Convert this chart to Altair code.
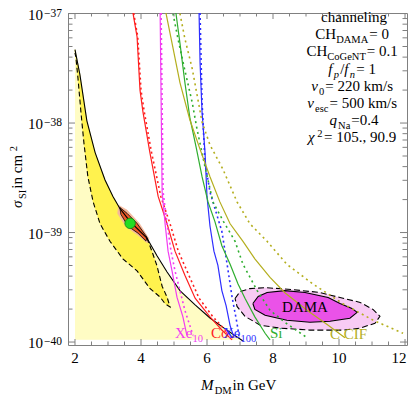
import altair as alt
import pandas as pd

FONT = "Liberation Serif"

# ---------------- data: DM mass (GeV) and log10(sigma_SI / cm^2) ----------------
black_m = [2.00, 2.15, 2.36, 2.61, 2.91, 3.15, 3.36, 3.67, 4.18, 4.48, 4.79, 5.18, 5.64, 6.09, 6.55, 7.09]
black_L = [-37.33, -37.56, -37.98, -38.27, -38.52, -38.67, -38.78, -38.90, -39.05, -39.21, -39.36, -39.53, -39.66, -39.78, -39.88, -39.99]
pale_floor = -39.98

dash_m = [4.18, 4.33, 4.48, 4.64, 4.79, 4.88, 4.73, 4.58, 4.27, 3.88, 3.45, 3.06, 2.76, 2.55, 2.39, 2.27, 2.18, 2.09, 2.03, 2.00]
dash_L = [-39.05, -39.17, -39.30, -39.49, -39.59, -39.68, -39.65, -39.59, -39.51, -39.35, -39.24, -39.08, -38.92, -38.72, -38.49, -38.18, -37.90, -37.59, -37.41, -37.36]

salmon_m = [3.32, 3.58, 3.95, 4.24, 4.19, 3.91, 3.54, 3.29]
salmon_L = [-38.750, -38.795, -38.916, -39.055, -39.095, -39.025, -38.945, -38.825]
orange_m = [3.36, 3.58, 3.88, 4.18, 4.15, 3.91, 3.61, 3.39]
orange_L = [-38.771, -38.825, -38.916, -39.042, -39.078, -39.006, -38.943, -38.834]
best_m = [3.67]
best_L = [-38.916]

dama_out_m = [6.85, 7.00, 7.30, 7.76, 8.61, 9.42, 10.03, 10.64, 11.03, 11.24, 11.09, 10.64, 10.12, 9.12, 8.21, 7.61, 7.15, 6.91]
dama_out_L = [-39.602, -39.539, -39.512, -39.503, -39.521, -39.548, -39.593, -39.638, -39.702, -39.765, -39.828, -39.873, -39.891, -39.891, -39.873, -39.846, -39.765, -39.675]
dama_in_m = [7.39, 7.55, 7.82, 8.36, 8.97, 9.67, 10.03, 10.39, 10.55, 10.33, 9.73, 9.12, 8.42, 7.76, 7.45]
dama_in_L = [-39.648, -39.584, -39.548, -39.530, -39.548, -39.593, -39.648, -39.693, -39.729, -39.783, -39.810, -39.819, -39.801, -39.756, -39.702]

red_m = [3.74, 3.76, 3.88, 3.97, 4.06, 4.27, 4.52, 4.79, 5.03, 5.33, 5.64, 6.09, 6.45, 6.76]
red_L = [-36.95, -37.00, -37.21, -37.70, -37.90, -38.27, -38.67, -38.92, -39.17, -39.39, -39.60, -39.77, -39.89, -39.98]
redd_m = [3.76, 3.78, 3.90, 4.00, 4.10, 4.32, 4.60, 4.88, 5.13, 5.45, 5.76, 6.18, 6.55, 6.85]
redd_L = [-36.95, -37.00, -37.21, -37.70, -37.90, -38.27, -38.67, -38.92, -39.17, -39.39, -39.60, -39.77, -39.89, -39.98]

mag_m = [4.58, 4.58, 4.61, 4.64, 4.73, 4.82, 4.94, 5.09, 5.27, 5.39]
mag_L = [-36.95, -37.00, -37.81, -38.63, -38.92, -39.17, -39.35, -39.59, -39.77, -39.94]
magd_m = [4.61, 4.61, 4.64, 4.67, 4.79, 4.91, 5.03, 5.18, 5.33, 5.48, 5.58]
magd_L = [-36.95, -37.00, -37.81, -38.63, -38.92, -39.17, -39.35, -39.53, -39.71, -39.85, -39.94]

blue_m = [5.75, 5.76, 5.79, 5.85, 5.94, 6.00, 6.09, 6.21, 6.33, 6.45, 6.58, 6.70, 6.82]
blue_L = [-36.95, -37.00, -37.45, -37.90, -38.27, -38.67, -38.94, -39.17, -39.30, -39.53, -39.67, -39.85, -39.96]
blued_m = [5.78, 5.79, 5.85, 5.94, 6.09, 6.27, 6.45, 6.61, 6.76, 6.91, 6.97]
blued_L = [-36.95, -37.00, -37.81, -38.36, -38.63, -38.81, -38.99, -39.29, -39.59, -39.83, -39.95]

green_m = [5.04, 5.06, 5.18, 5.33, 5.48, 5.67, 5.85, 6.03, 6.24, 6.45, 6.70, 6.94, 7.15, 7.45, 7.76, 7.91]
green_L = [-36.95, -37.00, -37.27, -37.63, -37.95, -38.22, -38.49, -38.72, -38.90, -39.12, -39.29, -39.47, -39.60, -39.77, -39.92, -39.98]
greend_m = [4.95, 4.97, 5.12, 5.33, 5.55, 5.70, 5.94, 6.18, 6.50, 6.85, 7.09, 7.52, 7.91, 8.36, 9.03]
greend_L = [-36.95, -37.00, -37.23, -37.52, -37.81, -38.06, -38.40, -38.72, -38.90, -39.08, -39.29, -39.53, -39.71, -39.82, -39.96]

olive_m = [4.73, 4.76, 4.94, 5.18, 5.48, 5.79, 6.09, 6.39, 6.70, 7.09, 7.45, 7.91, 8.36, 9.03, 9.64, 10.18]
olive_L = [-36.95, -37.00, -37.27, -37.63, -37.97, -38.24, -38.49, -38.72, -38.92, -39.08, -39.24, -39.41, -39.55, -39.71, -39.84, -39.96]
olived_m = [5.15, 5.18, 5.33, 5.55, 5.85, 6.09, 6.48, 6.91, 7.30, 7.82, 8.42, 9.21, 10.12, 11.03, 11.94]
olived_L = [-36.95, -37.00, -37.23, -37.50, -37.99, -38.20, -38.42, -38.72, -38.92, -39.08, -39.29, -39.47, -39.65, -39.80, -39.92]

x_major = [2, 4, 6, 8, 10, 12]
x_minor = [2.5, 3, 3.5, 4.5, 5, 5.5, 6.5, 7, 7.5, 8.5, 9, 9.5, 10.5, 11, 11.5]
y_major_exp = [-40, -39, -38, -37]
y_minor_mult = [2, 3, 4, 5, 6, 7, 8, 9]

info_lines = [
    [("channeling", "n")],
    [("CH", "n"), ("DAMA", "sub"), (" = 0", "n")],
    [("CH", "n"), ("CoGeNT", "sub"), (" = 0.1", "n")],
    [("f", "i"), ("p", "isub"), ("/", "n"), ("f", "i"), ("n", "isub"), (" = 1", "n")],
    [("v", "i"), ("0", "sub"), (" = 220 km/s", "n")],
    [("v", "i"), ("esc", "sub"), (" = 500 km/s", "n")],
    [("q", "i"), ("Na", "sub"), ("=0.4", "n")],
    [("χ", "i"), ("2", "sup"), (" = 105., 90.9", "n")],
]

# ---------------- styling ----------------
PALE = "#FFFCC4"
BRIGHT = "#FFF24E"
RED = "#FF1F1F"
MAG = "#F23CF2"
BLUE = "#2E2EFF"
GREEN = "#2FAE2F"
OLIVE = "#B4AE1E"
FRAME = "#808080"
W, H = 339, 332

xs = alt.Scale(domain=[1.788, 12.06], nice=False, zero=False)
ys = alt.Scale(type="log", domain=[10 ** -40.027, 10 ** -36.995], nice=False)
X = alt.X("m:Q", scale=xs, axis=None)
Y = alt.Y("s:Q", scale=ys, axis=None)


def frame(m, L, close=False):
    m = list(m)
    L = list(L)
    if close:
        m = m + [m[0]]
        L = L + [L[0]]
    return pd.DataFrame({"m": m, "s": [10 ** v for v in L], "i": list(range(len(m)))})


def curve(m, L, color, dash=None, width=1.2):
    kw = dict(color=color, strokeWidth=width, clip=True)
    if dash:
        kw["strokeDash"] = dash
    return alt.Chart(frame(m, L)).mark_line(**kw).encode(x=X, y=Y, order="i:Q")


def poly(m, L, fill, stroke=None, width=1.0, dash=None):
    kw = dict(fill=fill, clip=True, strokeWidth=width)
    kw["stroke"] = stroke if stroke else fill
    if not stroke:
        kw["strokeWidth"] = 0.5
    if dash:
        kw["strokeDash"] = dash
    return alt.Chart(frame(m, L, close=True)).mark_line(**kw).encode(x=X, y=Y, order="i:Q")


# text width estimation (Times metrics, per 1000 em)
REG = {' ': 250, '.': 250, ',': 250, '/': 278, '=': 564, '−': 564, 'A': 722, 'C': 667, 'D': 722, 'E': 611,
       'F': 556, 'G': 722, 'H': 722, 'I': 333, 'M': 889, 'N': 722, 'S': 556, 'T': 611, 'V': 722, 'X': 722,
       'a': 444, 'c': 444, 'e': 444, 'g': 500, 'h': 500, 'i': 278, 'k': 500, 'l': 278, 'm': 778, 'n': 500,
       'o': 500, 's': 389}
ITA = {'f': 278, 'p': 500, 'n': 500, 'v': 444, 'q': 500, 'M': 833, 'χ': 550, 'σ': 520}


def tw(s, size, italic=False):
    tbl = ITA if italic else REG
    return sum(tbl.get(c, 500) for c in s) * size / 1000.0


SZ = {"n": 15, "i": 15, "sub": 10.5, "isub": 10.5, "sup": 10.5}
OFF = {"n": 0, "i": 0, "sub": 3.5, "isub": 3.5, "sup": -5.5}
GAP = {"n": 0, "i": 1.2, "sub": 1.0, "isub": 1.2, "sup": 1.5}
ITAL = {"i", "isub"}

one = pd.DataFrame({"k": [0]})


def txt(s, x, y, size, color="black", italic=False, align="left", angle=None):
    kw = dict(text=s, fontSize=size, font=FONT, color=color, align=align, baseline="alphabetic")
    if italic:
        kw["fontStyle"] = "italic"
    if angle is not None:
        kw["angle"] = angle
    return alt.Chart(one).mark_text(**kw).encode(x=alt.value(x), y=alt.value(y))


def pw(t, k):
    return tw(t, SZ[k], k in ITAL) + GAP[k]


def rich(pieces, x0, y0, color="black", center=False):
    out = []
    total = sum(pw(t, k) for t, k in pieces)
    x = x0 - total / 2 if center else x0
    for t, k in pieces:
        out.append(txt(t, x, y0 + OFF[k], SZ[k], color=color, italic=k in ITAL))
        x += pw(t, k)
    return out


def rich_up(pieces, xb, y0, color="black"):
    out = []
    y = y0
    for t, k in pieces:
        out.append(txt(t, xb + OFF[k], y, SZ[k], color=color, italic=k in ITAL, angle=270))
        y -= pw(t, k)
    return out


layers = []

# pale yellow region under the black limit
pale_df = frame(black_m, black_L)
pale_df["s0"] = 10 ** pale_floor
layers.append(alt.Chart(pale_df).mark_area(color=PALE, clip=True).encode(x=X, y=Y, y2="s0:Q"))

# bright yellow contour region
layers.append(poly(black_m[:9] + dash_m[1:], black_L[:9] + dash_L[1:], BRIGHT))

# DAMA regions
layers.append(poly(dama_out_m, dama_out_L, "#F8CBF4", stroke="black", width=1.1, dash=[6, 3]))
layers.append(poly(dama_in_m, dama_in_L, "#EA52E8", stroke="black", width=1.1))

# CoGeNT best-fit region
layers.append(poly(salmon_m, salmon_L, "#F5B89C"))
layers.append(poly(orange_m, orange_L, "#EC5A28", stroke="black", width=0.8))

# black limit and dashed contour
layers.append(curve(black_m, black_L, "black", width=1.1))
layers.append(curve(dash_m, dash_L, "black", dash=[5, 3], width=1.1))

# exclusion curves
layers.append(curve(redd_m, redd_L, RED, dash=[2, 3], width=1.6))
layers.append(curve(red_m, red_L, RED))
layers.append(curve(magd_m, magd_L, MAG, dash=[2, 3], width=1.6))
layers.append(curve(mag_m, mag_L, MAG))
layers.append(curve(blued_m, blued_L, BLUE, dash=[2, 3], width=1.6))
layers.append(curve(blue_m, blue_L, BLUE))
layers.append(curve(greend_m, greend_L, GREEN, dash=[2, 3.5], width=1.6))
layers.append(curve(green_m, green_L, GREEN))
layers.append(curve(olived_m, olived_L, OLIVE, dash=[2, 3.5], width=1.6))
layers.append(curve(olive_m, olive_L, OLIVE))

# best-fit point
layers.append(alt.Chart(frame(best_m, best_L)).mark_point(
    filled=True, color="#22DD22", size=110, opacity=1, stroke="#118811", strokeWidth=0.8
).encode(x=X, y=Y))

# ticks (inside the frame)
xmaj = pd.DataFrame({"m": x_major})
xmin = pd.DataFrame({"m": x_minor})
ymaj = pd.DataFrame({"s": [10.0 ** e for e in y_major_exp]})
ymin = pd.DataFrame({"s": [k * 10.0 ** e for e in y_major_exp[:-1] for k in y_minor_mult]})
for df, ln in ((xmaj, 6), (xmin, 3.5)):
    layers.append(alt.Chart(df).mark_rule(color=FRAME, strokeWidth=1).encode(x=X, y=alt.value(H), y2=alt.value(H - ln)))
    layers.append(alt.Chart(df).mark_rule(color=FRAME, strokeWidth=1).encode(x=X, y=alt.value(0), y2=alt.value(ln)))
for df, ln in ((ymaj, 7), (ymin, 4.5)):
    layers.append(alt.Chart(df).mark_rule(color=FRAME, strokeWidth=1).encode(y=Y, x=alt.value(0), x2=alt.value(ln)))
    layers.append(alt.Chart(df).mark_rule(color=FRAME, strokeWidth=1).encode(y=Y, x=alt.value(W - ln), x2=alt.value(W)))

# x tick labels (the last one nudged so it stays inside the page)
xl = pd.DataFrame({"m": x_major[:-1], "t": [str(v) for v in x_major[:-1]]})
layers.append(alt.Chart(xl).mark_text(font=FONT, fontSize=15, align="center", baseline="alphabetic", color="black").encode(
    x=X, y=alt.value(350), text="t:N"))
xl_last = pd.DataFrame({"m": x_major[-1:], "t": [str(v) for v in x_major[-1:]]})
layers.append(alt.Chart(xl_last).mark_text(font=FONT, fontSize=15, align="center", baseline="alphabetic", color="black", dx=-6).encode(
    x=X, y=alt.value(350), text="t:N"))

# y tick labels 10^n
yl = pd.DataFrame({"s": [10.0 ** e for e in y_major_exp], "b": ["10"] * len(y_major_exp),
                   "e": ["−" + str(-e) for e in y_major_exp]})
layers.append(alt.Chart(yl).mark_text(font=FONT, fontSize=15, align="right", baseline="alphabetic", dy=6, color="black").encode(
    y=Y, x=alt.value(-25), text="b:N"))
layers.append(alt.Chart(yl).mark_text(font=FONT, fontSize=11.5, align="left", baseline="alphabetic", dy=3, color="black").encode(
    y=Y, x=alt.value(-24), text="e:N"))

# axis titles
layers += rich([("M", "i"), ("DM", "sub"), (" in GeV", "n")], 133, 377)
layers += rich_up([("σ", "i"), ("SI", "sub"), (" in cm", "n"), ("2", "sup")], -46, 195)

# info block
baselines = [9, 26, 43, 61, 78, 95, 112, 129]
for pieces, yb in zip(info_lines, baselines):
    layers += rich(pieces, 286, yb, center=True)

# curve labels
layers += rich([("Xe", "n"), ("10", "sub")], 107, 325, color=MAG)
layers += rich([("Co", "n")], 143, 325, color=RED)
layers += rich([("Xe", "n"), ("100", "sub")], 155, 325, color=BLUE)
layers += rich([("Si", "n")], 202, 325, color=GREEN)
layers += rich([("C CIF", "n")], 262, 326, color=OLIVE)
layers += rich([("DAMA", "n")], 237, 299, center=True)

chart = alt.layer(*layers).properties(
    width=W, height=H,
    padding={"left": 60, "top": 5, "right": 1, "bottom": 49},
    autosize=alt.AutoSizeParams(type="none"),
).configure_view(stroke=FRAME, strokeWidth=1)

chart.save("out.html", embed_options={"renderer": "svg", "actions": False})
